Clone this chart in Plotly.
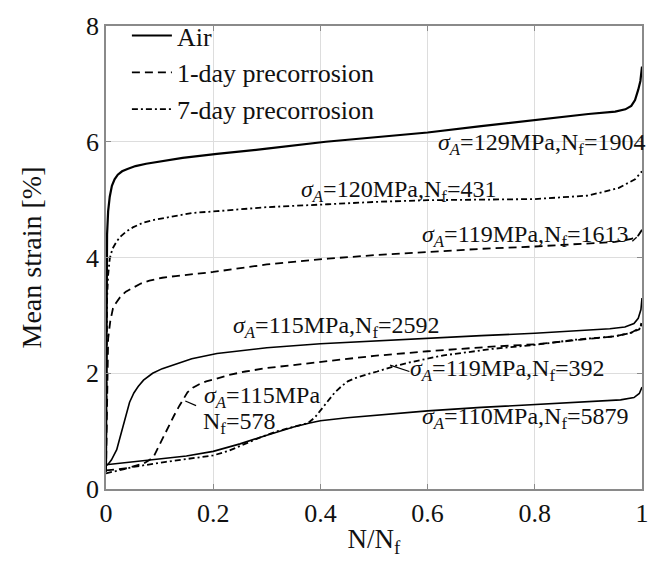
import plotly.graph_objects as go

# ---- Air (solid) ----
air129_x = [0, 0.001, 0.002, 0.004, 0.007, 0.011, 0.016, 0.022, 0.03, 0.04, 0.055, 0.075, 0.1, 0.143, 0.207, 0.3, 0.41, 0.5, 0.6, 0.7, 0.8, 0.9, 0.95, 0.969, 0.98, 0.987, 0.993, 0.997, 1.0]
air129_y = [0.4, 3.5, 4.4, 4.8, 5.05, 5.24, 5.35, 5.43, 5.49, 5.53, 5.58, 5.62, 5.66, 5.72, 5.79, 5.88, 6.0, 6.08, 6.16, 6.27, 6.38, 6.48, 6.52, 6.56, 6.62, 6.72, 6.9, 7.05, 7.3]

air115_x = [0, 0.005, 0.01, 0.015, 0.02, 0.025, 0.031, 0.037, 0.044, 0.052, 0.06, 0.07, 0.087, 0.105, 0.13, 0.16, 0.207, 0.3, 0.4, 0.5, 0.6, 0.7, 0.8, 0.876, 0.94, 0.968, 0.985, 0.993, 0.998, 1.0]
air115_y = [0.4, 0.44, 0.5, 0.58, 0.68, 0.85, 1.05, 1.28, 1.5, 1.66, 1.77, 1.88, 2.0, 2.08, 2.16, 2.25, 2.34, 2.44, 2.51, 2.56, 2.61, 2.65, 2.69, 2.73, 2.77, 2.8, 2.86, 2.95, 3.1, 3.3]

air110_x = [0, 0.05, 0.1, 0.15, 0.2, 0.25, 0.3, 0.35, 0.38, 0.4, 0.45, 0.5, 0.6, 0.7, 0.8, 0.9, 0.96, 0.985, 0.995, 1.0]
air110_y = [0.42, 0.47, 0.52, 0.57, 0.65, 0.78, 0.93, 1.07, 1.14, 1.18, 1.23, 1.27, 1.35, 1.41, 1.46, 1.51, 1.54, 1.58, 1.65, 1.76]

# ---- 1-day precorrosion (dashed) ----
d1_119_x = [0, 0.001, 0.002, 0.004, 0.008, 0.013, 0.019, 0.026, 0.037, 0.05, 0.065, 0.081, 0.105, 0.13, 0.16, 0.2, 0.3, 0.414, 0.5, 0.6, 0.7, 0.8, 0.9, 0.95, 0.98, 0.993, 1.0]
d1_119_y = [0.3, 1.0, 1.8, 2.6, 2.9, 3.12, 3.22, 3.31, 3.41, 3.48, 3.55, 3.6, 3.65, 3.68, 3.71, 3.75, 3.88, 3.98, 4.04, 4.1, 4.15, 4.19, 4.24, 4.27, 4.32, 4.38, 4.48]

d1_115_x = [0, 0.04, 0.07, 0.081, 0.09, 0.1, 0.109, 0.118, 0.127, 0.137, 0.145, 0.152, 0.162, 0.174, 0.187, 0.2, 0.229, 0.26, 0.3, 0.4, 0.5, 0.6, 0.72, 0.8, 0.876, 0.95, 0.98, 0.995, 1.0]
d1_115_y = [0.32, 0.36, 0.44, 0.5, 0.58, 0.77, 0.94, 1.1, 1.27, 1.44, 1.57, 1.67, 1.75, 1.81, 1.86, 1.89, 1.97, 2.03, 2.09, 2.2, 2.3, 2.38, 2.46, 2.5, 2.57, 2.64, 2.7, 2.78, 2.85]

# ---- 7-day precorrosion (dash-dot) ----
d7_120_x = [0, 0.002, 0.004, 0.007, 0.012, 0.02, 0.028, 0.038, 0.05, 0.069, 0.09, 0.112, 0.161, 0.207, 0.3, 0.414, 0.5, 0.6, 0.7, 0.8, 0.9, 0.956, 0.987, 1.0]
d7_120_y = [0.3, 3.3, 3.7, 3.98, 4.15, 4.28, 4.37, 4.45, 4.52, 4.6, 4.65, 4.69, 4.77, 4.8, 4.87, 4.92, 4.96, 4.99, 5.0, 5.01, 5.07, 5.2, 5.35, 5.49]

d7_119_x = [0, 0.05, 0.112, 0.2, 0.229, 0.26, 0.29, 0.32, 0.352, 0.377, 0.39, 0.4, 0.413, 0.427, 0.44, 0.451, 0.463, 0.475, 0.49, 0.506, 0.537, 0.568, 0.6, 0.63, 0.68, 0.72, 0.8, 0.876, 0.95, 0.98, 0.995, 1.0]
d7_119_y = [0.27, 0.38, 0.47, 0.58, 0.66, 0.78, 0.9, 1.0, 1.08, 1.14, 1.24, 1.36, 1.52, 1.67, 1.78, 1.86, 1.91, 1.95, 1.99, 2.03, 2.12, 2.19, 2.25, 2.31, 2.37, 2.42, 2.49, 2.58, 2.64, 2.7, 2.76, 2.9]

x_ticks = [0, 0.2, 0.4, 0.6, 0.8, 1]
x_tick_labels = ["0", "0.2", "0.4", "0.6", "0.8", "1"]
y_ticks = [0, 2, 4, 6, 8]
y_tick_labels = ["0", "2", "4", "6", "8"]

FONT = "Liberation Serif"
INK = "#111111"
DASH = "8px,5px"
DASHDOT = "6px,3px,2px,3px"

series = [
    # (x, y, dash, width, legend name or None)
    (air129_x, air129_y, "solid", 2.2, "Air"),
    (air115_x, air115_y, "solid", 1.6, None),
    (air110_x, air110_y, "solid", 1.6, None),
    (d1_119_x, d1_119_y, DASH, 1.8, "1-day precorrosion"),
    (d1_115_x, d1_115_y, DASH, 1.8, None),
    (d7_120_x, d7_120_y, DASHDOT, 1.8, "7-day precorrosion"),
    (d7_119_x, d7_119_y, DASHDOT, 1.8, None),
]

fig = go.Figure()
for xs, ys, dash, w, name in series:
    fig.add_trace(go.Scatter(
        x=xs, y=ys, mode="lines",
        line=dict(color="black", width=w, dash=dash),
        name=name if name else "",
        showlegend=name is not None,
    ))

# Curve labels: (text, x, y, xanchor, xshift)
labels = [
    ("<i>σ<sub>A</sub></i>=129MPa,N<sub>f</sub>=1904", 1.0, 5.96, "right", 5),
    ("<i>σ<sub>A</sub></i>=120MPa,N<sub>f</sub>=431", 0.36, 5.15, "left", 0),
    ("<i>σ<sub>A</sub></i>=119MPa,N<sub>f</sub>=1613", 0.585, 4.37, "left", 0),
    ("<i>σ<sub>A</sub></i>=115MPa,N<sub>f</sub>=2592", 0.234, 2.8, "left", 0),
    ("<i>σ<sub>A</sub></i>=115MPa", 0.179, 1.59, "left", 0),
    ("N<sub>f</sub>=578", 0.177, 1.14, "left", 0),
    ("<i>σ<sub>A</sub></i>=119MPa,N<sub>f</sub>=392", 0.563, 2.06, "left", 0),
    ("<i>σ<sub>A</sub></i>=110MPa,N<sub>f</sub>=5879", 0.586, 1.23, "left", 0),
]
for text, x, y, xa, dx in labels:
    fig.add_annotation(
        x=x, y=y, xref="x", yref="y", text=text, showarrow=False,
        xanchor=xa, yanchor="middle", xshift=dx,
        font=dict(family=FONT, size=24, color=INK),
    )

# Short leader lines from labels to their curves
leaders = [
    (0.148, 1.52, 0.168, 1.44),
    (0.53, 2.14, 0.566, 2.03),
    (0.982, 4.28, 0.99, 4.35),
]
for x0, y0, x1, y1 in leaders:
    fig.add_shape(type="line", x0=x0, y0=y0, x1=x1, y1=y1, xref="x", yref="y",
                  line=dict(color="black", width=1.2))

axis_common = dict(
    showgrid=True, gridcolor="#dddddd", gridwidth=1,
    showline=True, linecolor="#8a8a8a", linewidth=1.5, mirror="ticks",
    ticks="inside", ticklen=5, tickcolor="#8a8a8a",
    zeroline=False,
    tickfont=dict(family=FONT, size=26, color=INK),
)

fig.update_xaxes(
    range=[0, 1], tickvals=x_ticks, ticktext=x_tick_labels,
    title=dict(text="N/N<sub>f</sub>", font=dict(family=FONT, size=27, color=INK), standoff=2),
    **axis_common,
)
fig.update_yaxes(
    range=[0, 8], tickvals=y_ticks, ticktext=y_tick_labels,
    title=dict(text="Mean strain [%]", font=dict(family=FONT, size=28, color=INK), standoff=36),
    **axis_common,
)

fig.update_layout(
    width=661, height=561,
    margin=dict(l=106, r=14, t=15, b=68),
    paper_bgcolor="white", plot_bgcolor="white",
    showlegend=True,
    legend=dict(
        x=0.039, y=1.03, xanchor="left", yanchor="top",
        bgcolor="rgba(0,0,0,0)", borderwidth=0,
        font=dict(family=FONT, size=26, color=INK),
        tracegroupgap=0, itemwidth=40,
    ),
)

fig.write_html("out.html")
